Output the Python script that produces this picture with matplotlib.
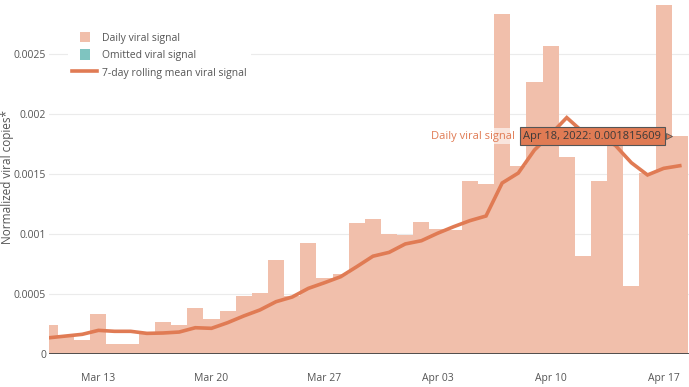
import numpy as np
import pandas as pd
import matplotlib
matplotlib.use("Agg")
import matplotlib.pyplot as plt
import matplotlib.dates as mdates
from matplotlib.patches import Patch, Rectangle
from matplotlib.lines import Line2D
from matplotlib.legend_handler import HandlerPatch

plt.rcParams['font.family'] = ['Open Sans', 'DejaVu Sans']

# daily samples, Mar 10 - Apr 18 2022
dates = pd.date_range('2022-03-10', '2022-04-18', freq='D')
daily = [0.000245, 0.00014, 0.00012, 0.000333, 0.000083, 0.000083, 0.00017, 0.000264,
         0.000239, 0.000386, 0.000292, 0.000361, 0.000486, 0.000506, 0.000783, 0.00048,
         0.000925, 0.000633, 0.000664, 0.001092, 0.001125, 0.000997, 0.000992, 0.001097,
         0.001039, 0.001035, 0.001442, 0.00142, 0.00283, 0.00157, 0.00227, 0.002567,
         0.001642, 0.000814, 0.001444, 0.00178, 0.000567, 0.001511, 0.002908, 0.001815609]
rolling = [0.000136, 0.00015, 0.000164, 0.000197, 0.000189, 0.000189, 0.000172, 0.000175,
           0.000183, 0.000219, 0.000214, 0.000261, 0.000317, 0.000367, 0.000436, 0.000475,
           0.000547, 0.000594, 0.000644, 0.000728, 0.000815, 0.000847, 0.000917, 0.000944,
           0.001006, 0.001061, 0.001111, 0.00115, 0.001425, 0.001508, 0.0017, 0.00183,
           0.00197, 0.00185, 0.0018, 0.00174, 0.001594, 0.001492, 0.001547, 0.001569]
yticks = [0, 0.0005, 0.001, 0.0015, 0.002, 0.0025]
ytick_labels = ['0', '0.0005', '0.001', '0.0015', '0.002', '0.0025']
xtick_dates = pd.to_datetime(['2022-03-13', '2022-03-20', '2022-03-27',
                              '2022-04-03', '2022-04-10', '2022-04-17'])

bar_color = '#f1bfab'
line_color = '#e07b54'
text_color = '#555555'


# square legend swatches, centred in the handle box
class SquareHandler(HandlerPatch):
    def create_artists(self, legend, orig_handle, xdescent, ydescent, width, height, fontsize, trans):
        side = 7.5
        p = Rectangle((-xdescent + (width - side) / 2, -ydescent + (height - side) / 2), side, side,
                      facecolor=orig_handle.get_facecolor(), edgecolor='none', transform=trans)
        return [p]


fig = plt.figure(figsize=(6.89, 3.87), dpi=100)
ax = fig.add_axes([49 / 689, 33 / 387, 640 / 689, 354 / 387])

ax.bar(dates, daily, width=1.0, color=bar_color, linewidth=0, zorder=2)
ax.plot(dates, rolling, color=line_color, linewidth=2.6, zorder=3, solid_joinstyle='miter')
ax.axhline(0, color='#444444', linewidth=1.3, zorder=4)

ax.set_ylim(0, 0.00295)
ax.set_xlim(mdates.date2num(dates[0]) - 0.06, mdates.date2num(dates[0]) + 39.57)
ax.set_yticks(yticks)
ax.set_yticklabels(ytick_labels)
ax.set_xticks(xtick_dates)
ax.set_xticklabels([d.strftime('%b %d') for d in xtick_dates])
ax.tick_params(axis='both', length=0, labelsize=7.5, labelcolor=text_color)
ax.tick_params(axis='x', pad=14)
ax.tick_params(axis='y', pad=2)
ax.grid(axis='y', color='#ebebeb', linewidth=0.8, zorder=1)
ax.set_axisbelow(True)
for s in ax.spines.values():
    s.set_visible(False)
ax.set_ylabel('Normalized viral copies*', fontsize=8.5, color=text_color)
ax.yaxis.set_label_coords(-0.054, 0.5)

handles = [Patch(facecolor=bar_color, edgecolor='none'),
           Patch(facecolor='#7fc4c0', edgecolor='none'),
           Line2D([], [], color=line_color, linewidth=2.6)]
labels = ['Daily viral signal', 'Omitted viral signal', '7-day rolling mean viral signal']
leg = ax.legend(handles, labels, loc='upper left', bbox_to_anchor=(0.022, 0.935),
                frameon=True, fontsize=7.5, labelcolor=text_color, handlelength=2.4,
                handleheight=1.0, labelspacing=0.6, borderpad=0.4, handletextpad=0.45,
                handler_map={Patch: SquareHandler()})
leg.get_frame().set_facecolor('white')
leg.get_frame().set_edgecolor('none')
leg.get_frame().set_alpha(1)
leg.set_zorder(6)

# hover tooltip on the last sample
tip_x = mdates.date2num(dates[-1]) - 0.55
tip_y = daily[-1]
tip = ax.annotate('Apr 18, 2022: 0.001815609', xy=(tip_x, tip_y), xytext=(-7, 0),
                  textcoords='offset points', ha='right', va='center', fontsize=8,
                  color='#3a3a3a', zorder=8,
                  bbox=dict(boxstyle='square,pad=0.3', fc=line_color, ec='#555555', lw=0.8))
ax.plot([tip_x - 0.12], [tip_y], marker='>', markersize=5, color=line_color,
        markeredgecolor='#555555', markeredgewidth=0.6, zorder=9, clip_on=False)
ax.annotate('Daily viral signal', xy=(0, 0.5), xycoords=tip, xytext=(-6, 0),
            textcoords='offset points', ha='right', va='center', fontsize=8,
            color=line_color, zorder=8,
            bbox=dict(boxstyle='square,pad=0.25', fc='white', ec='none', alpha=0.6))

fig.savefig('out.png', dpi=100)
